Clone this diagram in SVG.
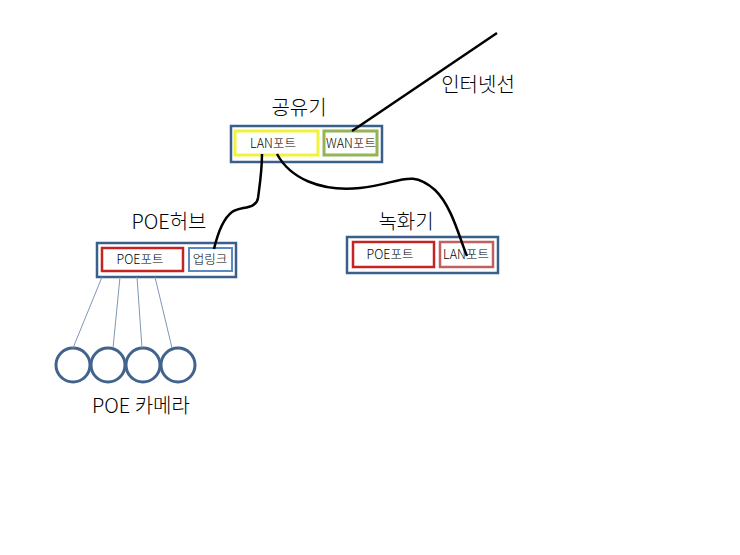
<svg xmlns="http://www.w3.org/2000/svg" width="740" height="555" viewBox="0 0 740 555">
<style>
text{font-family:"Noto Sans CJK KR","Noto Sans",sans-serif;fill:#000;font-weight:300}
.t{font-size:20px}
.s{font-size:12.5px}
.outer{fill:#fff;stroke:#3A5F8B;stroke-width:2.5}
.cable{fill:none;stroke:#000;stroke-width:2.5}
.thin{stroke:#7F97B8;stroke-width:1}
.cam{fill:#fff;stroke:#41638C;stroke-width:3}
</style>
<rect width="740" height="555" fill="#fff"/>
<g id="router">
<text class="t" x="299" y="115" text-anchor="middle">공유기</text>
<rect class="outer" x="231" y="126" width="151" height="36"/>
<rect x="235" y="131" width="83" height="24" fill="#fff" stroke="#F2F23C" stroke-width="3"/>
<text class="s" x="273" y="148" text-anchor="middle">LAN포트</text>
<rect x="324" y="131" width="53" height="24" fill="#fff" stroke="#92B557" stroke-width="3"/>
<text class="s" x="351" y="148" text-anchor="middle">WAN포트</text>
</g>
<g id="internet">
<text class="t" x="478" y="92" text-anchor="middle">인터넷선</text>
</g>
<g id="poehub">
<text class="t" x="169" y="229" text-anchor="middle">POE허브</text>
<rect class="outer" x="97" y="243" width="139" height="34"/>
<rect x="102" y="248" width="81" height="23" fill="#fff" stroke="#C42424" stroke-width="2.5"/>
<text class="s" x="140" y="264" text-anchor="middle">POE포트</text>
<rect x="189" y="248" width="43" height="23" fill="#fff" stroke="#5A8AC0" stroke-width="2"/>
<text class="s" x="210" y="264" text-anchor="middle">업링크</text>
</g>
<g id="recorder">
<text class="t" x="406" y="229" text-anchor="middle">녹화기</text>
<rect class="outer" x="347" y="237" width="151" height="36"/>
<rect x="353" y="242" width="81" height="25" fill="#fff" stroke="#C42424" stroke-width="2.5"/>
<text class="s" x="390" y="259" text-anchor="middle">POE포트</text>
<rect x="440" y="242" width="53" height="25" fill="#fff" stroke="#C06060" stroke-width="2.5"/>
<text class="s" x="466" y="259" text-anchor="middle">LAN포트</text>
</g>
<g id="cameras">
<circle class="cam" cx="73" cy="365" r="17"/>
<circle class="cam" cx="108" cy="365" r="17"/>
<circle class="cam" cx="143" cy="365" r="17"/>
<circle class="cam" cx="178" cy="365" r="17"/>
<text class="t" x="141" y="413" text-anchor="middle">POE 카메라</text>
</g>
<g id="connectors">
<line class="cable" x1="497" y1="33" x2="352" y2="131"/>
<path class="cable" d="M262,154 C262,172 259,190 258,198 C256,210 240,206 232,212 C224,218 218,232 214,249"/>
<path class="cable" d="M277,154 C290,178 320,192 360,188 C400,184 410,168 435,190 C452,206 460,240 467,256"/>
<line class="thin" x1="102" y1="277" x2="73" y2="348"/>
<line class="thin" x1="120" y1="277" x2="113" y2="348"/>
<line class="thin" x1="137" y1="277" x2="142" y2="348"/>
<line class="thin" x1="155" y1="277" x2="172" y2="348"/>
</g>
</svg>
